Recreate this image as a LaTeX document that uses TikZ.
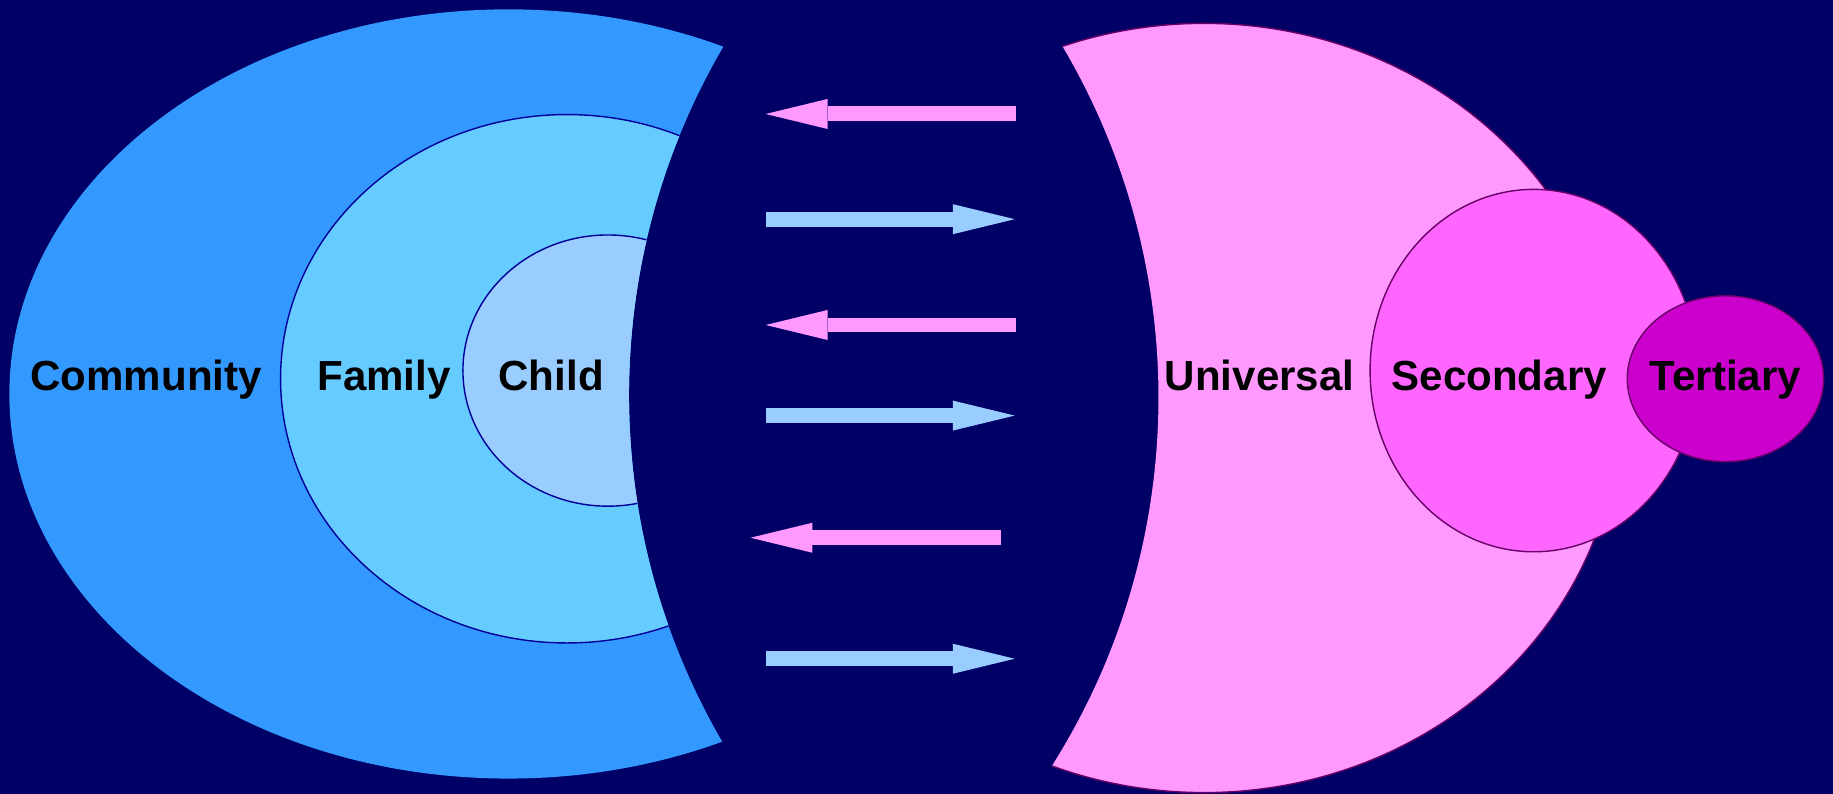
\documentclass[tikz,border=0pt]{standalone}
\usepackage{fontspec}
\setmainfont{Liberation Sans}
\usetikzlibrary{arrows.meta,calc}
\definecolor{bg}{HTML}{000066}
\definecolor{comm}{HTML}{3399FF}
\definecolor{fam}{HTML}{66CCFF}
\definecolor{chd}{HTML}{99CCFF}
\definecolor{bline}{HTML}{000099}
\definecolor{uni}{HTML}{FF99FF}
\definecolor{sec}{HTML}{FF66FF}
\definecolor{ter}{HTML}{CC00CC}
\definecolor{pline}{HTML}{660066}
\begin{document}
\begin{tikzpicture}[x=1pt,y=-1pt,
  lbl/.style={font=\fontsize{36}{40}\selectfont\bfseries, text=black, anchor=base, inner sep=0pt},
  leftring/.style={draw=bline, line width=1.2pt},
  rightring/.style={draw=pline, line width=1.2pt},
  flowarrow/.style={line width=12.8pt, line cap=butt, -{Triangle[length=53pt,width=25.7pt,line width=0pt]}},
  pinkarrow/.style={flowarrow, draw=uni},
  bluearrow/.style={flowarrow, draw=chd}]
\fill[bg] (0,0) rectangle (1568,679.2);
\useasboundingbox (0,0) rectangle (1568,679.2);
% left group
\begin{scope}
  \clip ($(1128,338)+(220:590)$) arc[start angle=220,end angle=140,radius=590] -- (-20,717) -- (-20,-41) -- cycle;
  \fill[comm] (435,337) ellipse[x radius=427,y radius=329];
  \filldraw[fill=fam, leftring] (485,324) ellipse[x radius=245,y radius=226];
  \filldraw[fill=chd, leftring] (520,317) ellipse[x radius=124,y radius=116];
\end{scope}
% right group
\begin{scope}
  \clip ($(401,340)+(-40:590)$) arc[start angle=-40,end angle=40,radius=590] -- (1600,719) -- (1600,-39) -- cycle;
  \filldraw[fill=uni, rightring] (1030,349) ellipse[x radius=355,y radius=329];
\end{scope}
\filldraw[fill=sec, rightring] (1312,317) ellipse[x radius=140,y radius=155];
\filldraw[fill=ter, rightring] (1476,324) ellipse[x radius=84,y radius=71];
% labels
\node[lbl] (community) at (125,334) {Community};
\node[lbl] (family) at (328.5,334) {Family};
\node[lbl] (child) at (471.5,334) {Child};
\node[lbl] (universal) at (1077.5,334) {Universal};
\node[lbl] (secondary) at (1282.5,334) {Secondary};
\node[lbl] (tertiary) at (1476,334) {Tertiary};
% arrows
\coordinate (a1s) at (869,97.5);  \coordinate (a1e) at (655,97.5);
\coordinate (a2s) at (655,187.5); \coordinate (a2e) at (868,187.5);
\coordinate (a3s) at (869,278);   \coordinate (a3e) at (655,278);
\coordinate (a4s) at (655,355.5); \coordinate (a4e) at (868,355.5);
\coordinate (a5s) at (856,460);   \coordinate (a5e) at (642,460);
\coordinate (a6s) at (655,563.5); \coordinate (a6e) at (868,563.5);
\draw[pinkarrow] (a1s) -- (a1e);
\draw[bluearrow] (a2s) -- (a2e);
\draw[pinkarrow] (a3s) -- (a3e);
\draw[bluearrow] (a4s) -- (a4e);
\draw[pinkarrow] (a5s) -- (a5e);
\draw[bluearrow] (a6s) -- (a6e);
\end{tikzpicture}
\end{document}
